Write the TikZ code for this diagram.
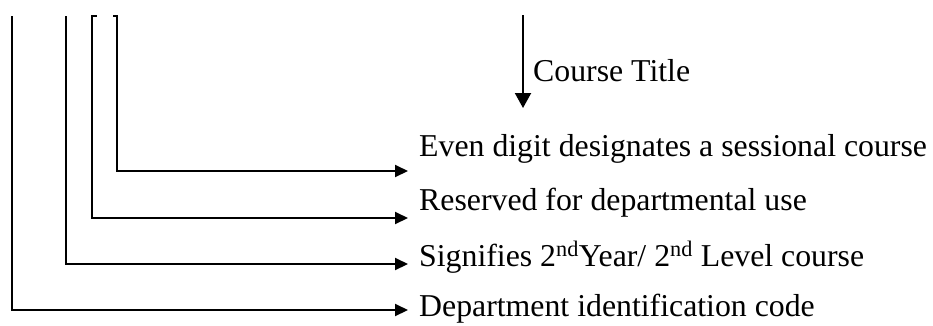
\documentclass[tikz,border=0pt]{standalone}
\usepackage{fontspec}
\setmainfont{Liberation Serif}
\usetikzlibrary{arrows.meta}
\tikzset{
    lead/.style={line width=2pt},
    pointer/.style={line width=2pt, -{Triangle[length=13pt,width=12pt]}},
    bigpointer/.style={line width=2pt, -{Triangle[length=15pt,width=16pt]}},
    label/.style={anchor=base west, inner sep=0pt, font=\fontsize{31.8}{36}\selectfont}
}
\begin{document}
\begin{tikzpicture}[x=1pt,y=-1pt]
    \useasboundingbox (0,0) rectangle (933,325);

    % Tops of the code digits
    \coordinate (depttop) at (12,16);
    \coordinate (yeartop) at (66,16);
    \coordinate (resvtop) at (92,16);
    \coordinate (sesstop) at (117,16);
    \coordinate (titletop) at (523,15);

    % Arrow ends
    \coordinate (sessend) at (408,171);
    \coordinate (resvend) at (408,218);
    \coordinate (yearend) at (408,264);
    \coordinate (deptend) at (408,310);
    \coordinate (titleend) at (523,108);

    % Labels
    \node[label] (title) at (533,81) {Course Title};
    \node[label] (sess) at (419,156) {Even digit designates a sessional course};
    \node[label] (resv) at (419,210) {Reserved for departmental use};
    \node[label] (year) at (419,266) {Signifies 2\textsuperscript{nd}Year/ 2\textsuperscript{nd} Level course};
    \node[label] (dept) at (419,316) {Department identification code};

    % Leaders
    \draw[bigpointer] (titletop) -- (titleend);
    \draw[pointer] (sesstop) |- (sessend);
    \draw[pointer] (resvtop) |- (resvend);
    \draw[pointer] (yeartop) |- (yearend);
    \draw[pointer] (depttop) |- (deptend);

    % Small ticks at the top
    \draw[lead] ([xshift=-1pt]resvtop) -- ++(6,0);
    \draw[lead] ([xshift=1pt]sesstop) -- ++(-5,0);
\end{tikzpicture}
\end{document}
